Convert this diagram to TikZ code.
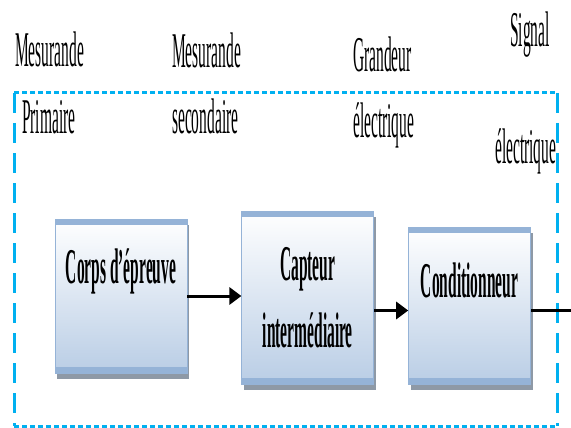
\documentclass[tikz,border=0pt]{standalone}
\usepackage{fontspec}
\newfontfamily\narrowfont[FakeStretch=0.31]{Liberation Serif}
\usepackage{tikz}
\usetikzlibrary{positioning, arrows.meta, shadows}
\definecolor{bandblue}{HTML}{95B3D7}
\definecolor{lowblue}{HTML}{B9CDE5}
\definecolor{shadowgray}{HTML}{8E99A6}
\definecolor{framecyan}{HTML}{00B0F0}

\begin{document}
\begin{tikzpicture}[
			x=1pt, y=-1pt,
			box/.style={rectangle, draw=bandblue, line width=0.8pt, top color=white, bottom color=lowblue, minimum width=132pt, inner sep=0pt, align=center,
				font=\narrowfont\bfseries\fontsize{50}{67}\selectfont,
				drop shadow={shadow xshift=2pt, shadow yshift=-6pt, fill=shadowgray, opacity=1},
				path picture={
					\fill[bandblue] (path picture bounding box.north west) rectangle ([yshift=-6pt]path picture bounding box.north east);
					\fill[bandblue] ([yshift=6pt]path picture bounding box.south west) rectangle (path picture bounding box.south east);
				}},
			lbl/.style={anchor=base west, inner sep=0pt, font=\narrowfont\fontsize{50}{60}\selectfont},
			arrow/.style={-{Triangle[length=12pt, width=17pt]}, line width=3pt},
			wire/.style={line width=3pt},
			frameh/.style={draw=framecyan, line width=3pt, dash pattern=on 5pt off 3pt},
			framev/.style={draw=framecyan, line width=3pt, dash pattern=on 20pt off 10pt}
			]
			\useasboundingbox (0,0) rectangle (571,428);
			
			% Dashed frame
			\draw[frameh] (14,93) -- (557,93);
			\draw[frameh] (14,426) -- (557,426);
			\draw[framev] (14,93) -- (14,426);
			\draw[framev] (557,93) -- (557,426);
			
			% Labels
			\node (mesprim) [lbl] at (15,67) {Mesurande};
			\node (prim) [lbl] at (22,133) {Primaire};
			\node (messec) [lbl] at (172,68) {Mesurande};
			\node (sec) [lbl] at (172,134) {secondaire};
			\node (grand) [lbl] at (353,72) {Grandeur};
			\node (elecgrand) [lbl] at (353,137) {électrique};
			\node (signal) [lbl] at (510,47) {Signal};
			\node (elecsig) [lbl] at (495,164) {électrique};
			
			% Blocks
			\node (corps) [box, text height=64pt, text depth=90pt] at (121,296) {Corps d’épreuve};
			\node (capteur) [box, text height=136pt, text depth=37pt, right=54pt of corps, yshift=-1.5pt] {Capteur\\intermédiaire};
			\node (cond) [box, minimum width=122pt, text height=70pt, text depth=87pt, right=34pt of capteur, yshift=-8pt] {Conditionneur};
			
			% Arrows
			\path ([yshift=-5pt]cond.west) coordinate (condin);
			\path ([yshift=-5pt]cond.east) coordinate (condout);
			\coordinate (sortie) at (571,310);
			\draw [arrow] (corps.east) -- (corps.east -| capteur.west);
			\draw [arrow] (condin -| capteur.east) -- (condin);
			\draw [wire] (condout) -- (condout -| sortie);
		\end{tikzpicture}
\end{document}
